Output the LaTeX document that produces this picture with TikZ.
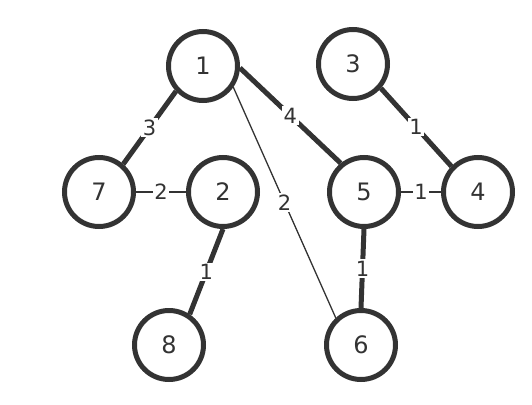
\documentclass[tikz,border=0pt]{standalone}
\usepackage{fontspec}
\setmainfont{DejaVu Sans}
\usetikzlibrary{positioning}
\definecolor{ink}{HTML}{333333}

\begin{document}
\begin{tikzpicture}[x=1pt,y=-1pt,
    vertex/.style={circle,draw=ink,line width=5pt,minimum size=69pt,inner sep=0pt,
                   fill=white,text=ink,font=\fontsize{24}{24}\selectfont},
    weight/.style={fill=white,inner sep=1.5pt,text=ink,font=\fontsize{21}{21}\selectfont},
    heavy/.style={line width=5pt},
    medium/.style={line width=2.5pt},
    light/.style={line width=1.3pt}]
    \useasboundingbox (0,0) rectangle (532,404);

    \node[vertex] (n1) at (203,66)  {1};
    \node[vertex] (n3) at (353,64)  {3};
    \node[vertex] (n7) at (99,192)  {7};
    \node[vertex] (n2) at (223,192) {2};
    \node[vertex] (n5) at (364,192) {5};
    \node[vertex] (n4) at (478,192) {4};
    \node[vertex] (n8) at (169,345) {8};
    \node[vertex] (n6) at (361,345) {6};

    \path[color=ink] (n1.-137) edge[heavy]  node[weight] {3} (n7.49)
                     (n1.-3)   edge[heavy]  node[weight] {4} (n5.129)
                     (n1.-35)  edge[light]  node[weight] {2} (n6.133)
                     (n7.east) edge[medium] node[weight] {2} (n2.west)
                     (n2.-90)  edge[heavy]  node[weight] {1} (n8.56)
                     (n5.east) edge[medium] node[weight] {1} (n4.west)
                     (n5.-90)  edge[heavy]  node[weight] {1} (n6.90)
                     (n3.-41)  edge[heavy]  node[weight] {1} (n4.136);
\end{tikzpicture}
\end{document}
